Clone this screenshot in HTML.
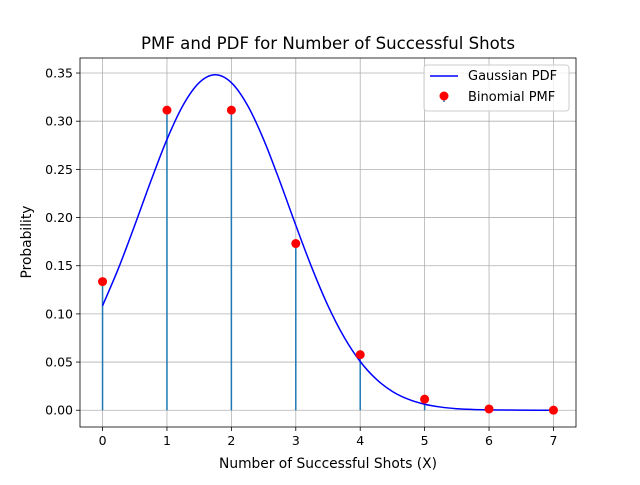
<!DOCTYPE html>
<html><head><meta charset="utf-8"><style>body{margin:0;background:#fff}svg text{font-family:"DejaVu Sans","Liberation Sans",sans-serif}</style></head>
<body>
<svg id="c" width="640" height="480" xmlns="http://www.w3.org/2000/svg"></svg>
<script>
const pmfX=[0,1,2,3,4,5,6,7];
const pmfY=[0.1335,0.3115,0.3115,0.1730,0.0577,0.0115,0.0013,0.0001];
const pdfX=[0,0.25,0.5,0.75,1,1.25,1.5,1.75,2,2.25,2.5,2.75,3,3.25,3.5,3.75,4,4.25,4.5,4.75,5,5.25,5.5,5.75,6,6.25,6.5,6.75,7];
const pdfY=[0.1084,0.1478,0.1920,0.2379,0.2811,0.3166,0.3400,0.3482,0.3400,0.3166,0.2811,0.2379,0.1920,0.1478,0.1084,0.0759,0.0506,0.0322,0.0195,0.0113,0.0062,0.0033,0.0016,0.0008,0.0004,0.0002,0.0001,0.00003,0.00001];
const xTicks=[0,1,2,3,4,5,6,7];
const yTicks=[0,0.05,0.10,0.15,0.20,0.25,0.30,0.35];
const L=80,R=576,T=58,B=427,x0=-0.35,x1=7.35,y0=-0.0174,y1=0.3656;
const sx=v=>L+(v-x0)/(x1-x0)*(R-L), sy=v=>B-(v-y0)/(y1-y0)*(B-T);
const s=document.getElementById('c');const NS='http://www.w3.org/2000/svg';
function mk(t,a,p){const e=document.createElementNS(NS,t);for(const k in a)e.setAttribute(k,a[k]);(p||s).appendChild(e);return e;}
const grid=mk('g',{});
xTicks.forEach(v=>{mk('line',{x1:sx(v),x2:sx(v),y1:T,y2:B,stroke:'#b0b0b0','stroke-width':0.8},grid);
const t=mk('text',{x:sx(v),y:B+18,'font-size':12.5,'text-anchor':'middle'});t.textContent=v;

mk('line',{x1:sx(v),x2:sx(v),y1:B,y2:B+4,stroke:'#000','stroke-width':0.8});});
yTicks.forEach(v=>{mk('line',{x1:L,x2:R,y1:sy(v),y2:sy(v),stroke:'#b0b0b0','stroke-width':0.8},grid);
const t=mk('text',{x:L-7,y:sy(v)+4.5,'font-size':12.5,'text-anchor':'end'});t.textContent=v.toFixed(2);

mk('line',{x1:L-4,x2:L,y1:sy(v),y2:sy(v),stroke:'#000','stroke-width':0.8});});
pmfX.forEach((v,i)=>{const l=mk('line',{x1:sx(v),x2:sx(v),y1:sy(0),y2:sy(pmfY[i]),stroke:'#1f77b4','stroke-width':1.5});
});
const P=pdfX.map((v,i)=>[sx(v),sy(pdfY[i])]);
let d='M'+P[0][0].toFixed(2)+','+P[0][1].toFixed(2);
for(let i=0;i<P.length-1;i++){const p0=P[Math.max(0,i-1)],p1=P[i],p2=P[i+1],p3=P[Math.min(P.length-1,i+2)];
const c1=[p1[0]+(p2[0]-p0[0])/6,p1[1]+(p2[1]-p0[1])/6],c2=[p2[0]-(p3[0]-p1[0])/6,p2[1]-(p3[1]-p1[1])/6];
d+='C'+c1.map(n=>n.toFixed(2))+' '+c2.map(n=>n.toFixed(2))+' '+p2.map(n=>n.toFixed(2));}
const p=mk('path',{d:d,fill:'none',stroke:'#0000ff','stroke-width':1.5,'stroke-linejoin':'round'});

pmfX.forEach((v,i)=>{const c=mk('circle',{cx:sx(v),cy:sy(pmfY[i]),r:4.5,fill:'#ff0000'});
});
const fr=mk('rect',{x:L,y:T,width:R-L,height:B-T,fill:'none',stroke:'#000','stroke-width':0.8});

const ti=mk('text',{x:(L+R)/2,y:49,'font-size':16.6,'text-anchor':'middle'});ti.textContent='PMF and PDF for Number of Successful Shots';

const xl=mk('text',{x:(L+R)/2,y:468,'font-size':13.8,'text-anchor':'middle'});xl.textContent='Number of Successful Shots (X)';

const yl=mk('text',{x:0,y:0,'font-size':13.8,'text-anchor':'middle',transform:'translate(31,242) rotate(-90)'});yl.textContent='Probability';

const lg=mk('g',{});
mk('rect',{x:424,y:65,width:145,height:46,rx:3,fill:'#fff','fill-opacity':0.8,stroke:'#ccc'},lg);
mk('line',{x1:430,x2:458,y1:76,y2:76,stroke:'#0000ff','stroke-width':1.5},lg);
let t1=mk('text',{x:468,y:80,'font-size':13},lg);t1.textContent='Gaussian PDF';

mk('line',{x1:444,x2:444,y1:97,y2:102,stroke:'#1f77b4','stroke-width':1.5},lg);
mk('circle',{cx:444,cy:96,r:4.5,fill:'#ff0000'},lg);
let t2=mk('text',{x:468,y:101,'font-size':13},lg);t2.textContent='Binomial PMF';

</script>
</body></html>
